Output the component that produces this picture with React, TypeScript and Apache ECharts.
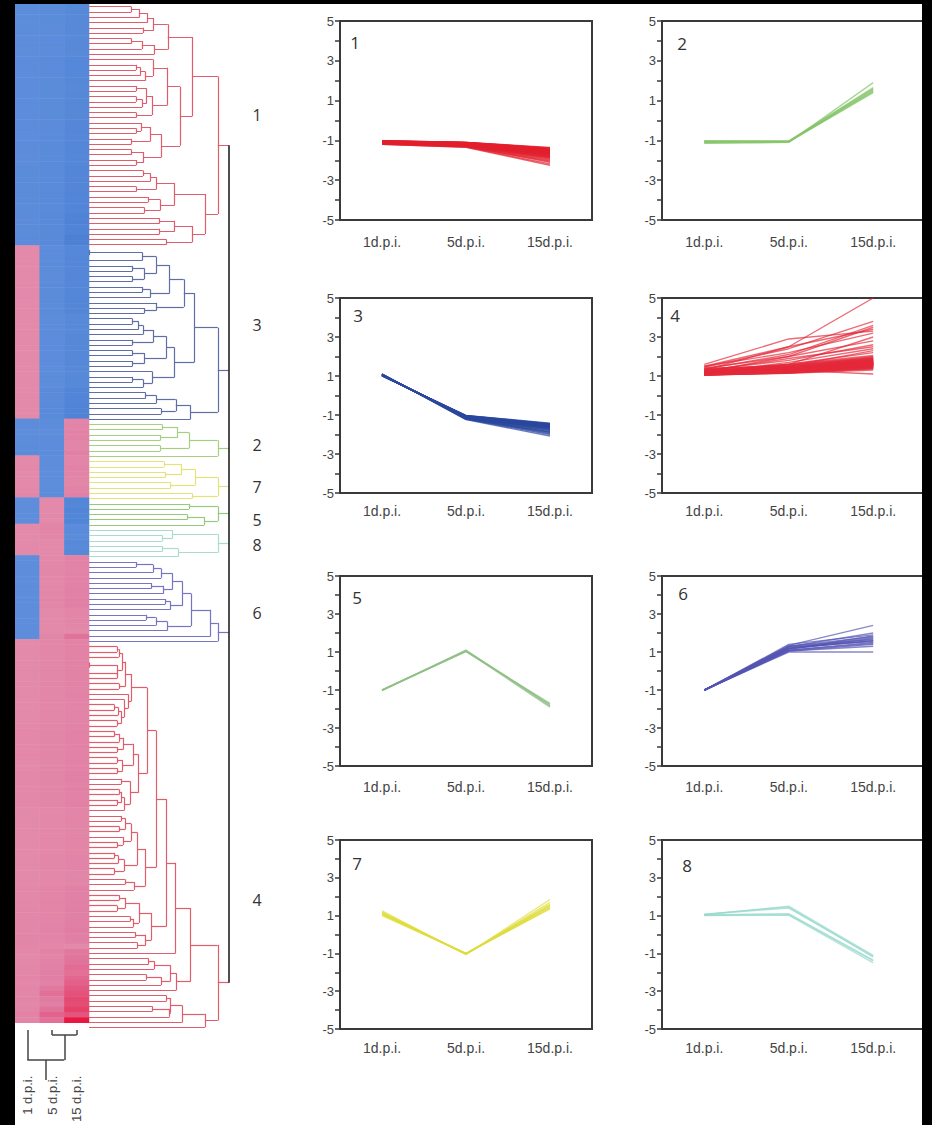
import React, { useEffect, useRef } from "react";
import * as echarts from "echarts";

// ---------- DATA ----------
const timePoints = ["1 d.p.i.", "5 d.p.i.", "15 d.p.i."];
const panelTimeLabels = ["1d.p.i.", "5d.p.i.", "15d.p.i."];
const timeX = [1, 3, 5];
const clusterOrder = [1, 3, 2, 7, 5, 8, 6, 4];
const panelIds = [1, 2, 3, 4, 5, 6, 7, 8];

const cluster1Genes = [
  [-1.05,-1.12,-1.45],[-1.1,-1.2,-1.6],[-1.08,-1.15,-1.5],[-1.12,-1.25,-1.75],[-1.02,-1.1,-1.38],[-1.15,-1.3,-1.9],[-1.1,-1.18,-1.62],[-1.06,-1.14,-1.52],[-1.18,-1.32,-2.05],[-1.09,-1.2,-1.66],
  [-1.04,-1.1,-1.42],[-1.13,-1.24,-1.8],[-1.07,-1.16,-1.55],[-1.11,-1.22,-1.7],[-1.2,-1.35,-2.25],[-1.03,-1.12,-1.48],[-1.14,-1.27,-1.85],[-1.08,-1.18,-1.58],[-1.1,-1.21,-1.68],[-1.05,-1.13,-1.47],
  [-1.16,-1.29,-1.95],[-1.09,-1.17,-1.6],[-1.12,-1.23,-1.73],[-1.06,-1.15,-1.53],[-1.01,-1.1,-1.35],[-1.13,-1.26,-1.83],[-1.1,-1.19,-1.64],[-1.07,-1.14,-1.5],[-1.15,-1.31,-2.0],[-1.04,-1.11,-1.44],
  [-1.11,-1.21,-1.69],[-1.08,-1.16,-1.57],[-1.17,-1.3,-2.1],[-1.12,-1.24,-1.77],[-1.05,-1.12,-1.46],[-1.09,-1.19,-1.63],[-1.14,-1.28,-1.88],[-1.06,-1.13,-1.51],[-1.1,-1.2,-1.66],[-1.03,-1.11,-1.4],
  [-1.19,-1.33,-2.18],[-1.08,-1.17,-1.59],[-1.13,-1.25,-1.79],[-1.07,-1.15,-1.54],[-1.11,-1.22,-1.71],[-1.02,-1.1,-1.39]
];
const cluster3Genes = [
  [1.05,-1.1,-1.6],[1.02,-1.05,-1.5],[1.08,-1.15,-1.75],[1.04,-1.08,-1.55],[1.1,-1.2,-1.9],[1.03,-1.06,-1.48],[1.06,-1.12,-1.65],[1.01,-1.02,-1.42],[1.07,-1.14,-1.7],[1.09,-1.18,-1.85],
  [1.04,-1.09,-1.58],[1.02,-1.04,-1.46],[1.06,-1.11,-1.63],[1.08,-1.16,-1.78],[1.03,-1.07,-1.52],[1.1,-1.22,-2.0],[1.05,-1.1,-1.6],[1.01,-1.03,-1.44],[1.07,-1.13,-1.68],[1.04,-1.08,-1.56],
  [1.09,-1.19,-1.88],[1.02,-1.05,-1.49],[1.06,-1.12,-1.66],[1.08,-1.17,-1.8],[1.03,-1.06,-1.5],[1.11,-1.24,-2.08],[1.05,-1.1,-1.62],[1.04,-1.09,-1.57],[1.07,-1.14,-1.72],[1.02,-1.04,-1.45],
  [1.06,-1.11,-1.64],[1.09,-1.2,-1.95],[1.03,-1.07,-1.53]
];
const cluster2Genes = [
  [-1.05,-1.05,1.5],[-1.1,-1.08,1.45],[-1.02,-1.03,1.6],[-1.15,-1.1,1.9],[-1.08,-1.06,1.55],[-1.12,-1.07,1.4],[-1.04,-1.04,1.65]
];
const cluster7Genes = [
  [1.1,-1.0,1.5],[1.05,-1.02,1.4],[1.2,-1.05,1.7],[1.0,-1.0,1.35],[1.15,-1.03,1.6],[1.08,-1.01,1.45],[1.25,-1.06,1.85],[1.12,-1.02,1.55]
];
const cluster5Genes = [
  [-1.0,1.05,-1.75],[-1.02,1.1,-1.85],[-1.0,1.02,-1.7],[-1.01,1.08,-1.8],[-1.03,1.04,-1.9]
];
const cluster8Genes = [
  [1.05,1.5,-1.1],[1.02,1.05,-1.4],[1.08,1.45,-1.2],[1.0,1.02,-1.5],[1.04,1.1,-1.35],[1.06,1.4,-1.15]
];
const cluster6Genes = [
  [-1.0,1.2,1.6],[-1.02,1.1,1.5],[-1.0,1.3,1.8],[-1.01,1.05,1.4],[-1.0,1.35,2.4],[-1.03,1.15,1.7],[-1.0,1.25,1.55],[-1.02,1.4,1.9],
  [-1.0,1.0,1.0],[-1.01,1.2,1.75],[-1.0,1.1,1.45],[-1.02,1.3,1.65],[-1.0,1.15,1.85],[-1.01,1.05,1.3],[-1.0,1.28,2.0],[-1.02,1.18,1.6]
];
const cluster4Genes = [
  [1.1,1.3,1.6],[1.15,1.35,1.7],[1.05,1.2,1.45],[1.2,1.4,1.8],[1.12,1.28,1.55],[1.08,1.22,1.5],[1.18,1.38,1.75],[1.1,1.25,1.6],[1.22,1.45,1.85],[1.06,1.18,1.4],
  [1.14,1.32,1.65],[1.1,1.27,1.58],[1.25,1.5,1.9],[1.09,1.24,1.52],[1.16,1.36,1.72],[1.12,1.3,1.62],[1.05,1.15,1.35],[1.2,1.42,1.82],[1.11,1.29,1.6],[1.13,1.31,1.68],
  [1.07,1.2,1.48],[1.17,1.37,1.74],[1.1,1.26,1.57],[1.24,1.48,1.95],[1.08,1.23,1.51],[1.15,1.34,1.7],[1.12,1.28,1.63],[1.06,1.17,1.42],[1.19,1.4,1.78],[1.1,1.27,1.59],
  [1.14,1.33,1.66],[1.28,1.55,2.0],[1.09,1.22,1.5],[1.16,1.35,1.73],[1.11,1.3,1.61],[1.05,1.16,1.38],[1.21,1.44,1.84],[1.13,1.29,1.64],[1.08,1.21,1.47],[1.17,1.39,1.76],
  [1.1,1.25,1.56],[1.23,1.46,1.88],[1.12,1.3,1.62],[1.07,1.19,1.45],[1.15,1.36,1.71],[1.3,1.6,2.05],[1.1,1.28,1.6],[1.18,1.37,1.77],[1.06,1.18,1.43],[1.13,1.32,1.67],
  [1.2,1.43,1.83],[1.09,1.24,1.53],[1.35,1.55,1.95],[1.11,1.26,1.58],[1.16,1.38,1.74],[1.05,1.14,1.3],[1.4,1.5,1.9],[1.12,1.29,1.61],
  [1.2,1.6,2.2],[1.15,1.7,2.4],[1.3,1.8,2.6],[1.25,1.9,2.5],[1.1,1.5,2.3],[1.4,2.0,2.8],[1.2,1.6,3.0],[1.5,2.2,3.2],[1.3,2.5,3.4],[1.6,2.9,3.3],
  [1.35,2.1,3.6],[1.45,2.4,3.8],[1.2,2.0,3.5],[1.5,2.5,5.0],[1.3,1.3,1.1]
];
const clusterGenes: Record<number, number[][]> = {
  1: cluster1Genes, 2: cluster2Genes, 3: cluster3Genes, 4: cluster4Genes,
  5: cluster5Genes, 6: cluster6Genes, 7: cluster7Genes, 8: cluster8Genes,
};
// column (time point) tree: join heights of (5,15) and (1,(5,15)), plus root stub
const colJoinHeights = [0.25, 1.5];
const colRootStub = 1.0;

// ---------- STYLE / LAYOUT ----------
const OFF_X = 15, OFF_Y = 4;
const NARROW = "Liberation Sans Narrow, Liberation Sans, Arial, sans-serif";
const SANS = "Liberation Sans, Arial, sans-serif";
const NUMFONT = "Open Sans, Noto Sans, sans-serif";
const lineColors: Record<number, string> = {
  1: "#e3202e", 2: "#86c46a", 3: "#2b479e", 4: "#e42a3a",
  5: "#8fbf84", 6: "#5454b4", 7: "#dedd3a", 8: "#97d9cc",
};
const treeColors: Record<number, string> = {
  1: "#df5d6c", 3: "#5f6fa6", 2: "#a7cf84", 7: "#e6e27a",
  5: "#95c97c", 8: "#a9dccf", 6: "#7575c0", 4: "#df5d6c",
};
const heatColors = ["#4273c9", "#5084d6", "#5d8ddb", "#b4b4d8", "#e38aaa", "#e17fa4", "#e2608a", "#e63a62", "#ea1840"];
const PANEL_COLS = [
  { left: 340, width: 252, xMax: 6 },
  { left: 662, width: 264, xMax: 6.25 },
];
const PANEL_ROWS = [
  { top: 21, height: 199, margin: 15 },
  { top: 298, height: 195, margin: 11 },
  { top: 576, height: 190, margin: 14 },
  { top: 840, height: 189, margin: 12 },
];
const panelNumberPos: number[][] = [[355, 42], [682, 43], [358, 315], [675, 315], [357, 597], [683, 593], [357, 863], [687, 865]];
const clusterLabelPos: Record<number, number[]> = {
  1: [257, 115], 3: [257, 325], 2: [257, 445], 7: [257, 487], 5: [257, 520], 8: [257, 545], 6: [257, 613], 4: [257, 900],
};
const CLUSTER_ROOT_X = 0.92;
const HEIGHT_POWER = 0.3;

// ---------- helpers ----------
type TNode = { left?: TNode; right?: TNode; h: number; members: number[]; minIdx: number };

function buildTree(genes: number[][]): TNode {
  const n = genes.length;
  const D: number[][] = [];
  for (let i = 0; i < n; i++) {
    D.push([]);
    for (let j = 0; j < n; j++) {
      let s = 0;
      for (let t = 0; t < 3; t++) s += (genes[i][t] - genes[j][t]) ** 2;
      D[i].push(Math.sqrt(s));
    }
  }
  let active: TNode[] = genes.map((_, i) => ({ h: 0, members: [i], minIdx: i }));
  while (active.length > 1) {
    let best = Infinity, bi = 0, bj = 1;
    for (let i = 0; i < active.length; i++) {
      for (let j = i + 1; j < active.length; j++) {
        let s = 0;
        for (const a of active[i].members) for (const b of active[j].members) s += D[a][b];
        const d = s / (active[i].members.length * active[j].members.length);
        if (d < best) { best = d; bi = i; bj = j; }
      }
    }
    const A = active[bi], B = active[bj];
    const [l, r] = A.minIdx < B.minIdx ? [A, B] : [B, A];
    const node: TNode = { left: l, right: r, h: best, members: [...l.members, ...r.members], minIdx: Math.min(l.minIdx, r.minIdx) };
    active = active.filter((_, k) => k !== bi && k !== bj);
    active.push(node);
  }
  return active[0];
}

function buildOption() {
  const grids: any[] = [];
  const xAxes: any[] = [];
  const yAxes: any[] = [];
  const series: any[] = [];
  const graphics: any[] = [];

  const totalRows = clusterOrder.reduce((s, c) => s + clusterGenes[c].length, 0);
  const rowIds = Array.from({ length: totalRows }, (_, i) => "g" + i);

  // grid 0: heatmap
  grids.push({ left: 0, top: 0, width: 74, height: 1026 });
  xAxes.push({
    gridIndex: 0, type: "category", data: timePoints, position: "bottom",
    axisLine: { show: false }, axisTick: { show: false }, splitLine: { show: false },
    axisLabel: { rotate: 90, margin: 53, fontSize: 13, color: "#444", fontFamily: SANS, interval: 0 },
  });
  yAxes.push({ gridIndex: 0, type: "category", data: rowIds, inverse: true, show: false });

  // grid 1: row dendrogram
  grids.push({ left: 74, top: 0, width: 140, height: 1026 });
  xAxes.push({ gridIndex: 1, type: "value", min: 0, max: 1, show: false });
  yAxes.push({ gridIndex: 1, type: "value", min: 0, max: totalRows, inverse: true, show: false });

  // grid 2: column dendrogram
  grids.push({ left: 0, top: 1026, width: 74, height: 52 });
  xAxes.push({ gridIndex: 2, type: "value", min: 0, max: 3, show: false });
  yAxes.push({ gridIndex: 2, type: "value", min: 0, max: 2.6, inverse: true, show: false });

  const heatData: number[][] = [];
  const rootPts: { y: number; cid: number }[] = [];
  let rowCursor = 0;
  for (const cid of clusterOrder) {
    const genes = clusterGenes[cid];
    const root = buildTree(genes);
    const hmax = root.h || 1;
    const order: number[] = [];
    const segs: number[][][] = [];
    const place = (node: TNode): { x: number; y: number } => {
      if (!node.left || !node.right) {
        const y = rowCursor + order.length + 0.5;
        order.push(node.members[0]);
        return { x: 0, y };
      }
      const a = place(node.left);
      const b = place(node.right);
      const x = CLUSTER_ROOT_X * Math.pow(node.h / hmax, HEIGHT_POWER);
      segs.push([[a.x, a.y], [x, a.y]], [[b.x, b.y], [x, b.y]], [[x, a.y], [x, b.y]]);
      return { x, y: (a.y + b.y) / 2 };
    };
    const r = place(root);
    segs.push([[r.x, r.y], [1, r.y]]);
    rootPts.push({ y: r.y, cid });
    order.forEach((gi, k) => {
      for (let t = 0; t < 3; t++) heatData.push([t, rowCursor + k, genes[gi][t]]);
    });
    series.push({
      type: "lines", coordinateSystem: "cartesian2d", xAxisIndex: 1, yAxisIndex: 1,
      polyline: false, silent: true, z: 3,
      lineStyle: { color: treeColors[cid], width: 1.2, opacity: 1, curveness: 0 },
      data: segs.map((c) => ({ coords: c })),
    });
    rowCursor += genes.length;
  }
  const ys = rootPts.map((p) => p.y);
  series.push({
    type: "lines", coordinateSystem: "cartesian2d", xAxisIndex: 1, yAxisIndex: 1,
    polyline: false, silent: true, z: 4,
    lineStyle: { color: "#222", width: 1.6, opacity: 1 },
    data: [{ coords: [[1, Math.min(...ys)], [1, Math.max(...ys)]] }],
  });

  series.unshift({
    type: "heatmap", xAxisIndex: 0, yAxisIndex: 0, data: heatData, silent: true,
    itemStyle: { borderWidth: 0 },
  });

  // column dendrogram
  const cx = [0.5, 1.5, 2.5];
  const j1x = (cx[1] + cx[2]) / 2;
  const j2x = (cx[0] + j1x) / 2;
  const colSegs = [
    [[cx[1], 0], [cx[1], colJoinHeights[0]]],
    [[cx[2], 0], [cx[2], colJoinHeights[0]]],
    [[cx[1], colJoinHeights[0]], [cx[2], colJoinHeights[0]]],
    [[j1x, colJoinHeights[0]], [j1x, colJoinHeights[1]]],
    [[cx[0], 0], [cx[0], colJoinHeights[1]]],
    [[cx[0], colJoinHeights[1]], [j1x, colJoinHeights[1]]],
    [[j2x, colJoinHeights[1]], [j2x, colJoinHeights[1] + colRootStub]],
  ];
  series.push({
    type: "lines", coordinateSystem: "cartesian2d", xAxisIndex: 2, yAxisIndex: 2,
    polyline: false, silent: true,
    lineStyle: { color: "#444", width: 1.5, opacity: 1 },
    data: colSegs.map((c) => ({ coords: c })),
  });

  // line panels
  panelIds.forEach((pid, p) => {
    const col = PANEL_COLS[p % 2];
    const row = PANEL_ROWS[Math.floor(p / 2)];
    const gi = grids.length;
    grids.push({
      left: col.left - OFF_X, top: row.top - OFF_Y, width: col.width, height: row.height,
      show: true, borderColor: "#3a3a3a", borderWidth: 2, backgroundColor: "#fff",
    });
    xAxes.push({
      gridIndex: gi, type: "value", min: 0, max: col.xMax, interval: 1,
      axisLine: { show: true, onZero: false, lineStyle: { color: "#3a3a3a", width: 2 } },
      axisTick: { show: false }, splitLine: { show: false },
      axisLabel: {
        margin: row.margin, color: "#444", fontSize: 14, fontFamily: NARROW,
        formatter: (v: number) => { const i = timeX.indexOf(v); return i >= 0 ? panelTimeLabels[i] : ""; },
      },
    });
    yAxes.push({
      gridIndex: gi, type: "value", min: -5, max: 5, interval: 1,
      axisLine: { show: true, onZero: false, lineStyle: { color: "#3a3a3a", width: 2 } },
      axisTick: { show: true, length: 5, lineStyle: { color: "#3a3a3a", width: 1.5 } },
      splitLine: { show: false },
      axisLabel: {
        margin: 6, color: "#444", fontSize: 13, fontFamily: NARROW,
        formatter: (v: number) => (Math.abs(v) % 2 === 1 ? String(v) : ""),
      },
    });
    clusterGenes[pid].forEach((g) => {
      series.push({
        type: "line", xAxisIndex: gi, yAxisIndex: gi, silent: true, symbol: "none",
        data: g.map((v, t) => [timeX[t], v]),
        lineStyle: { color: lineColors[pid], width: 1.4, opacity: 0.7 },
        z: 3,
      });
    });
    const [nx, ny] = panelNumberPos[p];
    graphics.push({
      type: "text", x: nx - OFF_X, y: ny - OFF_Y, z: 10,
      style: { text: String(pid), fill: "#333", fontSize: 17, fontFamily: NUMFONT, align: "center", verticalAlign: "middle" },
    });
  });

  clusterOrder.forEach((cid) => {
    const [lx, ly] = clusterLabelPos[cid];
    graphics.push({
      type: "text", x: lx - OFF_X, y: ly - OFF_Y, z: 10,
      style: { text: String(cid), fill: "#333", fontSize: 16, fontFamily: NUMFONT, align: "center", verticalAlign: "middle" },
    });
  });

  return {
    animation: false,
    backgroundColor: "#fff",
    grid: grids,
    xAxis: xAxes,
    yAxis: yAxes,
    visualMap: {
      type: "continuous", show: false, seriesIndex: 0, dimension: 2, min: -3, max: 5,
      inRange: { color: heatColors },
    },
    graphic: graphics,
    series,
  };
}

export default function App() {
  const ref = useRef<HTMLDivElement>(null);
  useEffect(() => {
    if (!ref.current) return;
    const chart = echarts.init(ref.current, null, { renderer: "svg" });
    chart.setOption(buildOption() as any);
    return () => chart.dispose();
  }, []);
  return (
    <div style={{ position: "absolute", left: 0, top: 0, width: 932, height: 1125, background: "#000", overflow: "hidden" }}>
      <div ref={ref} style={{ position: "absolute", left: 15, top: 4, width: 917, height: 1121, background: "#fff", overflow: "hidden" }} />
      <div style={{ position: "absolute", left: 922, top: 0, width: 10, height: 1125, background: "#000", zIndex: 2 }} />
    </div>
  );
}
